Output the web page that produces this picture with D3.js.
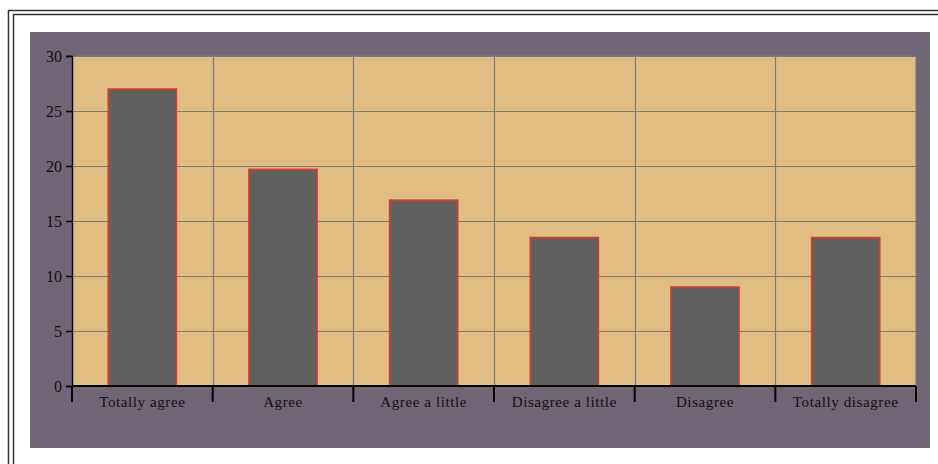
<!DOCTYPE html>
<html>
<head>
<meta charset="utf-8">
<style>
  body { margin: 0; background: #fff; }
  text { font-family: "Liberation Serif", "Times New Roman", serif; fill: #111; }
</style>
<script src="https://d3js.org/d3.v7.min.js"></script>
</head>
<body>
<div id="chart"></div>
<script>
// data
var categories = ["Totally agree", "Agree", "Agree a little", "Disagree a little", "Disagree", "Totally disagree"];
var values = [27.0, 19.7, 16.9, 13.5, 9.0, 13.5];
var yTicks = [0, 5, 10, 15, 20, 25, 30];

var W = 938, H = 464;
var plot = {left: 72, top: 56, right: 916, bottom: 386};

var svg = d3.select("#chart").append("svg")
  .attr("width", W).attr("height", H);

// double frame
svg.append("rect").attr("x", 8.5).attr("y", 10.5).attr("width", W).attr("height", H)
  .attr("fill", "none").attr("stroke", "#333").attr("stroke-width", 1.5);
svg.append("rect").attr("x", 13.5).attr("y", 14.5).attr("width", W).attr("height", H)
  .attr("fill", "none").attr("stroke", "#333").attr("stroke-width", 1.5);

// outer chart area
svg.append("rect").attr("x", 30).attr("y", 32).attr("width", 900).attr("height", 416)
  .attr("fill", "#716676");

var x = d3.scaleBand().domain(categories)
  .range([plot.left, plot.right]).paddingInner(0).paddingOuter(0);
var y = d3.scaleLinear().domain([0, 30]).range([plot.bottom, plot.top]);

// plot background
svg.append("rect")
  .attr("x", plot.left).attr("y", plot.top)
  .attr("width", plot.right - plot.left).attr("height", plot.bottom - plot.top)
  .attr("fill", "#e0bd82").attr("stroke", "#7a7a7a").attr("stroke-width", 1.2);

// horizontal grid
svg.append("g").selectAll("line").data(yTicks.slice(1)).enter().append("line")
  .attr("x1", plot.left).attr("x2", plot.right)
  .attr("y1", function(d) { return Math.round(y(d)) + 0.5; })
  .attr("y2", function(d) { return Math.round(y(d)) + 0.5; })
  .attr("stroke", "#7a7a7a").attr("stroke-width", 1.2);

// vertical grid at category boundaries
svg.append("g").selectAll("line").data(categories.slice(1)).enter().append("line")
  .attr("x1", function(d) { return Math.round(x(d)) + 0.5; })
  .attr("x2", function(d) { return Math.round(x(d)) + 0.5; })
  .attr("y1", plot.top).attr("y2", plot.bottom)
  .attr("stroke", "#7a7a7a").attr("stroke-width", 1.2);

// bars
var bw = x.bandwidth() * 0.485;
svg.append("g").selectAll("rect").data(values).enter().append("rect")
  .attr("x", function(d, i) { return x(categories[i]) + (x.bandwidth() - bw) / 2; })
  .attr("y", function(d) { return y(d); })
  .attr("width", bw)
  .attr("height", function(d) { return y(0) - y(d); })
  .attr("fill", "#606060")
  .attr("stroke", "#e03a2a").attr("stroke-width", 1.5);

// y axis
var yAxis = d3.axisLeft(y).tickValues(yTicks).tickSize(6).tickPadding(4);
var gy = svg.append("g").attr("transform", "translate(" + plot.left + ",0)").call(yAxis);
gy.select(".domain").attr("stroke", "#000").attr("stroke-width", 1.5);
gy.selectAll(".tick line").attr("stroke", "#000").attr("stroke-width", 1.5);
gy.selectAll("text").style("font-size", "16px").attr("fill", "#111");

// x axis: ticks on band boundaries
var gx = svg.append("g").attr("transform", "translate(0," + plot.bottom + ")");
gx.append("line").attr("x1", plot.left).attr("x2", plot.right)
  .attr("stroke", "#000").attr("stroke-width", 2);
var bounds = categories.map(function(c) { return x(c); }).concat([plot.right]);
gx.selectAll(".btick").data(bounds).enter().append("line")
  .attr("class", "btick")
  .attr("x1", function(d) { return d; }).attr("x2", function(d) { return d; })
  .attr("y1", 0).attr("y2", 16)
  .attr("stroke", "#000").attr("stroke-width", 2);
gx.selectAll(".lbl").data(categories).enter().append("text")
  .attr("class", "lbl")
  .attr("x", function(d) { return x(d) + x.bandwidth() / 2; })
  .attr("y", 21)
  .attr("text-anchor", "middle")
  .style("font-size", "15px")
  .style("letter-spacing", "0.6px")
  .text(function(d) { return d; });
</script>
</body>
</html>
